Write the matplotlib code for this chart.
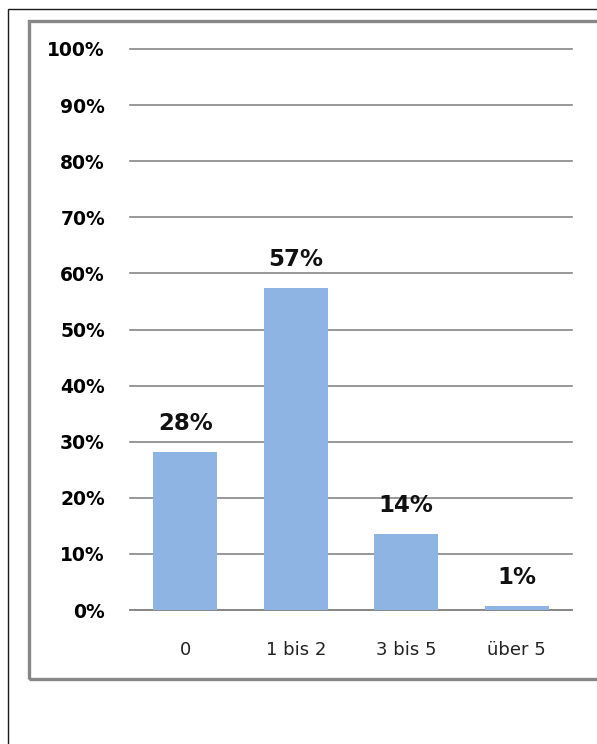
import matplotlib
matplotlib.use("Agg")
from matplotlib import pyplot as plt
from matplotlib.patches import Rectangle
from matplotlib.ticker import MultipleLocator, FuncFormatter

# Kategorien und Werte (Anteile in %)
kategorien = ["0", "1 bis 2", "3 bis 5", "über 5"]
werte = [28.2, 57.4, 13.5, 0.7]
beschriftung = ["28%", "57%", "14%", "1%"]

W, H = 597, 744
fig = plt.figure(figsize=(W / 100, H / 100), dpi=100)

# äusserer schwarzer Rahmen (rechts/unten abgeschnitten)
fig.patches.append(Rectangle((7.5 / W, -0.1), 1.2, (H - 8.5) / H + 0.1,
                             transform=fig.transFigure, fill=False,
                             edgecolor="#1a1a1a", linewidth=1.0))
# grauer Diagrammrahmen
fig.patches.append(Rectangle((29 / W, (H - 679) / H), 1.2, (679 - 21) / H,
                             transform=fig.transFigure, fill=False,
                             edgecolor="#878787", linewidth=2.4))

ax = fig.add_axes([130 / W, 1 - 610 / H, (572 - 130) / W, (610 - 49) / H])
x = range(len(kategorien))
ax.bar(x, werte, width=0.58, color="#8EB4E3", zorder=3)
for i, (v, t) in enumerate(zip(werte, beschriftung)):
    ax.text(i, v + 3.0, t, ha="center", va="bottom", fontsize=16.5,
            fontweight="bold", family="DejaVu Sans", color="#111111")

ax.set_xlim(-0.5, len(kategorien) - 0.5)
ax.set_ylim(0, 100)
ax.yaxis.set_major_locator(MultipleLocator(10))
ax.yaxis.set_major_formatter(FuncFormatter(lambda v, p: "%d%%" % v))
ax.set_xticks(list(x))
ax.set_xticklabels(kategorien, fontsize=13, color="#222222")
ax.grid(axis="y", color="#868686", linewidth=1.2, zorder=0)
for g in ax.get_ygridlines():
    g.set_clip_on(False)
for lab in ax.get_yticklabels():
    lab.set_fontweight("bold")
    lab.set_fontsize(13.5)
ax.tick_params(axis="y", length=0, pad=18)
ax.tick_params(axis="x", length=0, pad=22)
for s in ["top", "right", "left"]:
    ax.spines[s].set_visible(False)
ax.spines["bottom"].set_color("#868686")
ax.spines["bottom"].set_linewidth(1.2)

plt.savefig("out.png", dpi=100)
